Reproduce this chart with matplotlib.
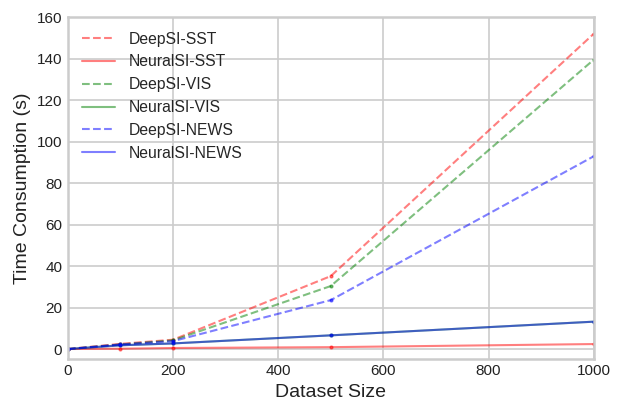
import matplotlib
matplotlib.use('Agg')
import matplotlib.pyplot as plt

# Dados
tamanhos = [0, 100, 200, 500, 1000]

deepsi_sst = [0, 2.5, 4.5, 35.2, 152.1]
neuralsi_sst = [0, 0.15, 0.5, 0.9, 2.4]
deepsi_vis = [0, 2.2, 4.2, 30.4, 139.6]
neuralsi_vis = [0, 1.8, 2.7, 6.6, 13.2]
deepsi_news = [0, 2.2, 3.8, 23.6, 93.0]
neuralsi_news = [0, 1.8, 2.7, 6.6, 13.2]

plt.style.use('seaborn-v0_8-whitegrid')
plt.rcParams['font.family'] = ['Liberation Sans', 'DejaVu Sans']

fig = plt.figure(figsize=(6.23, 4.15), dpi=100)
ax = fig.add_axes([0.109, 0.136, 0.844, 0.822])

ax.plot(tamanhos, deepsi_sst, 'r--', marker='.', markersize=4, alpha=0.5, label='DeepSI-SST')
ax.plot(tamanhos, neuralsi_sst, 'r-', marker='.', markersize=4, alpha=0.5, label='NeuralSI-SST')
ax.plot(tamanhos, deepsi_vis, 'g--', marker='.', markersize=4, alpha=0.5, label='DeepSI-VIS')
ax.plot(tamanhos, neuralsi_vis, 'g-', marker='.', markersize=4, alpha=0.5, label='NeuralSI-VIS')
ax.plot(tamanhos, deepsi_news, 'b--', marker='.', markersize=4, alpha=0.5, label='DeepSI-NEWS')
ax.plot(tamanhos, neuralsi_news, 'b-', marker='.', markersize=4, alpha=0.5, label='NeuralSI-NEWS')

ax.set_xlim(0, 1000)
ax.set_ylim(-4.6, 160)
ax.set_xticks([0, 200, 400, 600, 800, 1000])
ax.set_yticks([0, 20, 40, 60, 80, 100, 120, 140, 160])
ax.tick_params(labelsize=11, colors='#222222', pad=4)

for s in ax.spines.values():
    s.set_visible(True)
    s.set_color('#cccccc')
    s.set_linewidth(1.8)
ax.grid(True, color='#cccccc', linewidth=1.2)

ax.set_xlabel('Dataset Size', fontsize=14, color='#222222')
ax.set_ylabel('Time Consumption (s)', fontsize=14, color='#222222')

leg = ax.legend(loc='upper left', fontsize=11.3, frameon=False,
                handlelength=2.1, handletextpad=0.85,
                borderaxespad=0.5, labelspacing=0.5)
for h in leg.get_lines():
    h.set_marker('')

fig.savefig('out.png', dpi=100)
